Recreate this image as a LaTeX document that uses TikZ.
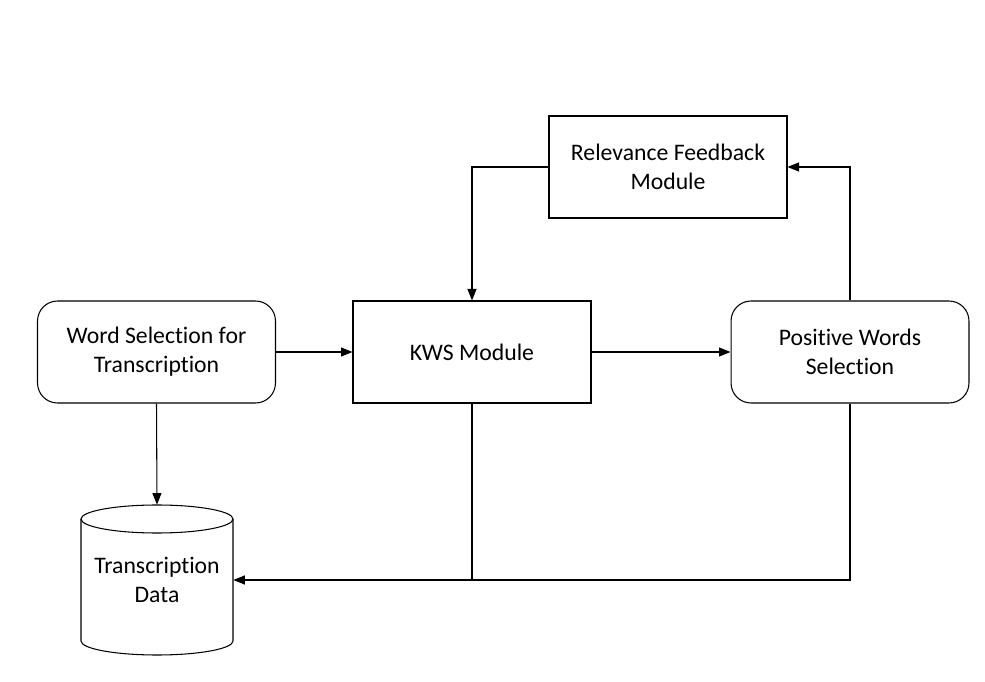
\documentclass[tikz,border=0pt]{standalone}
\usepackage{fontspec}
\setmainfont{Carlito}[Ligatures=NoCommon]
\usetikzlibrary{arrows.meta,positioning,shapes.geometric}
\tikzset{
  flowproc/.style={rectangle, draw=black, line width=0.6pt, align=center, minimum width=4.76cm, minimum height=2.04cm, font=\fontsize{13.5}{16.5}\selectfont},
  flowsel/.style={flowproc, rounded corners=0.4cm},
  flowdata/.style={rectangle, align=center, minimum width=3.04cm, minimum height=3.0cm, font=\fontsize{13.5}{16.5}\selectfont},
  flowline/.style={line width=0.6pt},
  flowarrow/.style={flowline, -{Triangle[length=2.3mm,width=1.8mm]}}
}
\begin{document}
\begin{tikzpicture}[x=0.02cm, y=-0.02cm]
\useasboundingbox (0,0) rectangle (985,682);
\node[flowproc] (rf) at (668,167) {Relevance Feedback\\Module};
\node[flowsel] (ws) at (156.5,352) {Word Selection for\\Transcription};
\node[flowproc] (kws) at (472,352) {KWS Module};
\node[flowsel] (pws) at (850,352) {Positive Words\\Selection};
\node[flowdata] (td) at (157,580) {Transcription\\Data};
% data store outline
\draw[flowline] (157,519) ellipse[x radius=76, y radius=14];
\draw[flowline] (81,519) -- (81,641) arc[start angle=180, end angle=0, x radius=76, y radius=14] -- (233,519);
\coordinate (join) at (kws.south |- td.east);
\draw[flowarrow] (ws) -- (kws);
\draw[flowarrow] (kws) -- (pws);
\draw[flowarrow] (pws.north) |- (rf.east);
\draw[flowarrow] (rf.west) -| (kws.north);
\draw[flowarrow] (ws.south) -- (td.north);
\draw[flowline] (kws.south) -- (join);
\draw[flowarrow] (pws.south) |- (td.east);
\end{tikzpicture}
\end{document}
